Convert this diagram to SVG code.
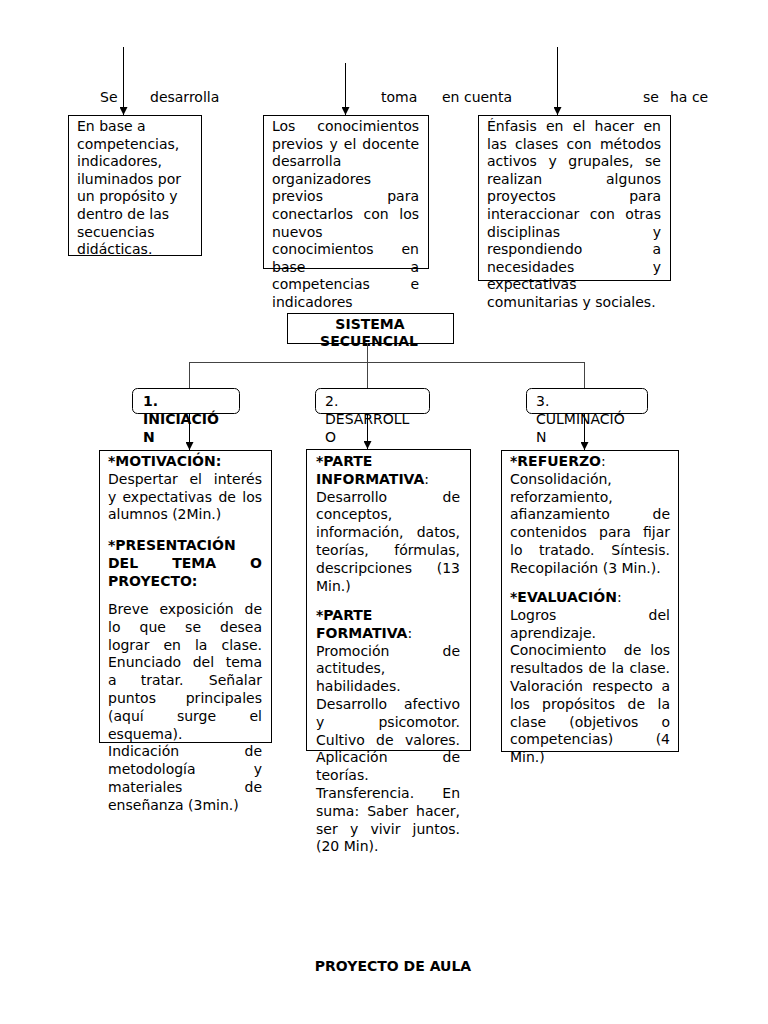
<svg xmlns="http://www.w3.org/2000/svg" width="768" height="1024" viewBox="0 0 768 1024">
<style>
text{font-family:"DejaVu Sans","Verdana",sans-serif;font-size:14px;fill:#000}
.b{font-weight:bold}
.e{text-anchor:end}
.m{text-anchor:middle}
.box{fill:none;stroke:#000;stroke-width:1}
.rbox{fill:none;stroke:#000;stroke-width:1}
.ln{fill:none;stroke:#444;stroke-width:1}
.ar{fill:none;stroke:#000;stroke-width:1;marker-end:url(#ah)}
</style>
<defs>
<marker id="ah" markerUnits="userSpaceOnUse" markerWidth="8" markerHeight="8" refX="8" refY="4" orient="auto">
<path d="M0,0 L8,4 L0,8 Z" fill="#000"/>
</marker>
</defs>
<rect width="768" height="1024" fill="#fff"/>

<g id="top-labels">
<text x="100" y="102">Se</text>
<text x="150" y="102">desarrolla</text>
<text x="381" y="102">toma</text>
<text x="442" y="102">en cuenta</text>
<text x="643" y="102">se</text>
<text x="670" y="102">ha ce</text>
</g>

<g id="node-base-competencias">
<rect class="box" x="68.5" y="115.5" width="133" height="140"/>
<text x="77" y="131">En base a</text>
<text x="77" y="148.6">competencias,</text>
<text x="77" y="166.2">indicadores,</text>
<text x="77" y="183.8">iluminados por</text>
<text x="77" y="201.4">un propósito y</text>
<text x="77" y="219">dentro de las</text>
<text x="77" y="236.6">secuencias</text>
<text x="77" y="254.2">didácticas.</text>
</g>

<g id="node-conocimientos-previos">
<rect class="box" x="263.5" y="115.5" width="165" height="153"/>
<text x="272" y="131">Los</text><text class="e" x="419" y="131">conocimientos</text>
<text x="272" y="148.6">previos</text><text x="329.4" y="148.6">y</text><text x="343.8" y="148.6">el</text><text class="e" x="419" y="148.6">docente</text>
<text x="272" y="166.2">desarrolla</text>
<text x="272" y="183.8">organizadores</text>
<text x="272" y="201.4">previos</text><text class="e" x="419" y="201.4">para</text>
<text x="272" y="219">conectarlos</text><text x="363.5" y="219">con</text><text class="e" x="419" y="219">los</text>
<text x="272" y="236.6">nuevos</text>
<text x="272" y="254.2">conocimientos</text><text class="e" x="419" y="254.2">en</text>
<text x="272" y="271.8">base</text><text class="e" x="419" y="271.8">a</text>
<text x="272" y="289.4">competencias</text><text class="e" x="419" y="289.4">e</text>
<text x="272" y="307">indicadores</text>
</g>

<g id="node-enfasis-hacer">
<rect class="box" x="478.5" y="115.5" width="192" height="165"/>
<text x="487" y="131">Énfasis</text><text x="546" y="131">en</text><text x="572.8" y="131">el</text><text x="594.6" y="131">hacer</text><text class="e" x="661" y="131">en</text>
<text x="487" y="148.6">las</text><text x="515" y="148.6">clases</text><text x="566.6" y="148.6">con</text><text class="e" x="661" y="148.6">métodos</text>
<text x="487" y="166.2">activos</text><text x="548.4" y="166.2">y</text><text x="568.3" y="166.2">grupales,</text><text class="e" x="661" y="166.2">se</text>
<text x="487" y="183.8">realizan</text><text class="e" x="661" y="183.8">algunos</text>
<text x="487" y="201.4">proyectos</text><text class="e" x="661" y="201.4">para</text>
<text x="487" y="219">interaccionar</text><text x="589.8" y="219">con</text><text class="e" x="661" y="219">otras</text>
<text x="487" y="236.6">disciplinas</text><text class="e" x="661" y="236.6">y</text>
<text x="487" y="254.2">respondiendo</text><text class="e" x="661" y="254.2">a</text>
<text x="487" y="271.8">necesidades</text><text class="e" x="661" y="271.8">y</text>
<text x="487" y="289.4">expectativas</text>
<text x="487" y="307">comunitarias y sociales.</text>
</g>

<g id="node-sistema-secuencial">
<rect class="box" x="287.5" y="313.5" width="166" height="30"/>
<text class="b m" x="370" y="328.5">SISTEMA</text>
<text class="b m" x="369" y="346">SECUENCIAL</text>
</g>

<g id="node-iniciacion">
<rect class="rbox" x="132.5" y="388.5" width="107" height="25" rx="5"/>
<text class="b" x="143" y="406">1.</text>
<text class="b" x="143" y="424">INICIACIÓ</text>
<text class="b" x="143" y="441.5">N</text>
</g>

<g id="node-desarrollo">
<rect class="rbox" x="315.5" y="388.5" width="114" height="25" rx="5"/>
<text x="325" y="406">2.</text>
<text x="325" y="424">DESARROLL</text>
<text x="325" y="441.5">O</text>
</g>

<g id="node-culminacion">
<rect class="rbox" x="526.5" y="388.5" width="121" height="25" rx="5"/>
<text x="536" y="406">3.</text>
<text x="536" y="424">CULMINACIÓ</text>
<text x="536" y="441.5">N</text>
</g>

<g id="node-motivacion">
<rect class="box" x="99.5" y="450.5" width="172" height="292"/>
<text class="b" x="108" y="466">*MOTIVACIÓN:</text>
<text x="108" y="483.8">Despertar</text><text x="189.4" y="483.8">el</text><text class="e" x="262" y="483.8">interés</text>
<text x="108" y="501.6">y</text><text x="122.5" y="501.6">expectativas</text><text x="218.4" y="501.6">de</text><text class="e" x="262" y="501.6">los</text>
<text x="108" y="519.4">alumnos (2Min.)</text>
<text class="b" x="108" y="550">*PRESENTACIÓN</text>
<text class="b" x="108" y="568">DEL</text><text class="b" x="172.2" y="568">TEMA</text><text class="b e" x="262" y="568">O</text>
<text class="b" x="108" y="586">PROYECTO:</text>
<text x="108" y="614">Breve</text><text x="159.4" y="614">exposición</text><text class="e" x="262" y="614">de</text>
<text x="108" y="631.8">lo</text><text x="139.6" y="631.8">que</text><text x="185.1" y="631.8">se</text><text class="e" x="262" y="631.8">desea</text>
<text x="108" y="649.6">lograr</text><text x="163.4" y="649.6">en</text><text x="194.9" y="649.6">la</text><text class="e" x="262" y="649.6">clase.</text>
<text x="108" y="667.4">Enunciado</text><text x="192.7" y="667.4">del</text><text class="e" x="262" y="667.4">tema</text>
<text x="108" y="685.2">a</text><text x="140.7" y="685.2">tratar.</text><text class="e" x="262" y="685.2">Señalar</text>
<text x="108" y="703">puntos</text><text class="e" x="262" y="703">principales</text>
<text x="108" y="720.8">(aquí</text><text x="176.9" y="720.8">surge</text><text class="e" x="262" y="720.8">el</text>
<text x="108" y="738.6">esquema).</text>
<text x="108" y="756.4">Indicación</text><text class="e" x="262" y="756.4">de</text>
<text x="108" y="774.2">metodología</text><text class="e" x="262" y="774.2">y</text>
<text x="108" y="792">materiales</text><text class="e" x="262" y="792">de</text>
<text x="108" y="809.8">enseñanza (3min.)</text>
</g>

<g id="node-parte-informativa">
<rect class="box" x="306.5" y="449.5" width="164" height="301"/>
<text class="b" x="316" y="466">*PARTE</text>
<text x="316" y="483.8"><tspan class="b">INFORMATIVA</tspan>:</text>
<text x="316" y="501.6">Desarrollo</text><text class="e" x="460" y="501.6">de</text>
<text x="316" y="519.4">conceptos,</text>
<text x="316" y="537.2">información,</text><text class="e" x="460" y="537.2">datos,</text>
<text x="316" y="555">teorías,</text><text class="e" x="460" y="555">fórmulas,</text>
<text x="316" y="572.8">descripciones</text><text class="e" x="460" y="572.8">(13</text>
<text x="316" y="590.6">Min.)</text>
<text class="b" x="316" y="620">*PARTE</text>
<text x="316" y="637.8"><tspan class="b">FORMATIVA</tspan>:</text>
<text x="316" y="655.6">Promoción</text><text class="e" x="460" y="655.6">de</text>
<text x="316" y="673.4">actitudes,</text>
<text x="316" y="691.2">habilidades.</text>
<text x="316" y="709">Desarrollo</text><text class="e" x="460" y="709">afectivo</text>
<text x="316" y="726.8">y</text><text class="e" x="460" y="726.8">psicomotor.</text>
<text x="316" y="744.6">Cultivo</text><text x="376" y="744.6">de</text><text class="e" x="460" y="744.6">valores.</text>
<text x="316" y="762.4">Aplicación</text><text class="e" x="460" y="762.4">de</text>
<text x="316" y="780.2">teorías.</text>
<text x="316" y="798">Transferencia.</text><text class="e" x="460" y="798">En</text>
<text x="316" y="815.8">suma:</text><text x="367.2" y="815.8">Saber</text><text class="e" x="460" y="815.8">hacer,</text>
<text x="316" y="833.6">ser</text><text x="349.9" y="833.6">y</text><text x="370.4" y="833.6">vivir</text><text class="e" x="460" y="833.6">juntos.</text>
<text x="316" y="851.4">(20 Min).</text>
</g>

<g id="node-refuerzo">
<rect class="box" x="501.5" y="450.5" width="177" height="301"/>
<text x="510" y="466"><tspan class="b">*REFUERZO</tspan>:</text>
<text x="510" y="483.8">Consolidación,</text>
<text x="510" y="501.6">reforzamiento,</text>
<text x="510" y="519.4">afianzamiento</text><text class="e" x="670" y="519.4">de</text>
<text x="510" y="537.2">contenidos</text><text x="599" y="537.2">para</text><text class="e" x="670" y="537.2">fijar</text>
<text x="510" y="555">lo</text><text x="539" y="555">tratado.</text><text class="e" x="670" y="555">Síntesis.</text>
<text x="510" y="572.8">Recopilación (3 Min.).</text>
<text x="510" y="602"><tspan class="b">*EVALUACIÓN</tspan>:</text>
<text x="510" y="619.8">Logros</text><text class="e" x="670" y="619.8">del</text>
<text x="510" y="637.6">aprendizaje.</text>
<text x="510" y="655.4">Conocimiento</text><text x="623.8" y="655.4">de</text><text class="e" x="670" y="655.4">los</text>
<text x="510" y="673.2">resultados</text><text x="588.6" y="673.2">de</text><text x="611.5" y="673.2">la</text><text class="e" x="670" y="673.2">clase.</text>
<text x="510" y="691">Valoración</text><text x="592.3" y="691">respecto</text><text class="e" x="670" y="691">a</text>
<text x="510" y="708.8">los</text><text x="542.1" y="708.8">propósitos</text><text x="627.6" y="708.8">de</text><text class="e" x="670" y="708.8">la</text>
<text x="510" y="726.6">clase</text><text x="569.3" y="726.6">(objetivos</text><text class="e" x="670" y="726.6">o</text>
<text x="510" y="744.4">competencias)</text><text class="e" x="670" y="744.4">(4</text>
<text x="510" y="762.2">Min.)</text>
</g>

<g id="connectors">
<line class="ar" x1="123.5" y1="47" x2="123.5" y2="115"/>
<line class="ar" x1="345.5" y1="63" x2="345.5" y2="115"/>
<line class="ar" x1="557.5" y1="47" x2="557.5" y2="115"/>
<line class="ln" x1="367.5" y1="343" x2="367.5" y2="388"/>
<line class="ln" x1="189.5" y1="362.5" x2="584.5" y2="362.5"/>
<line class="ln" x1="189.5" y1="362" x2="189.5" y2="388"/>
<line class="ln" x1="584.5" y1="362" x2="584.5" y2="388"/>
<line class="ar" x1="189.5" y1="413" x2="189.5" y2="450"/>
<line class="ar" x1="367.5" y1="413" x2="367.5" y2="449"/>
<line class="ar" x1="584.5" y1="413" x2="584.5" y2="450"/>
</g>

<g id="footer">
<text class="b m" x="393" y="971">PROYECTO DE AULA</text>
</g>
</svg>
